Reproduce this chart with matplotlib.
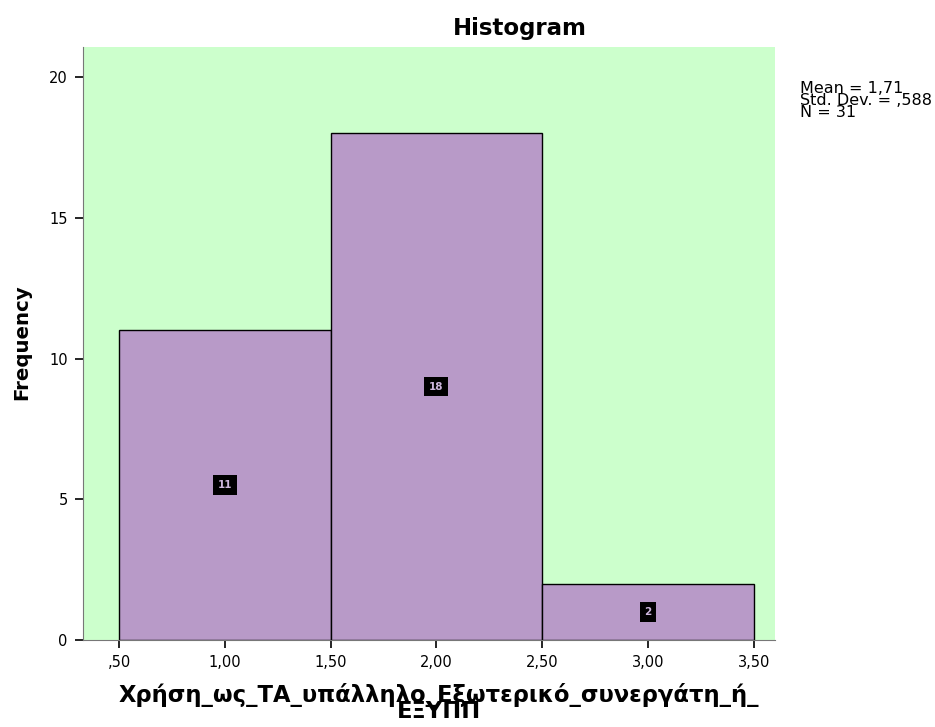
import matplotlib.pyplot as plt
import numpy as np

plt.rcParams['font.family'] = ['DejaVu Sans']

# histogram data (SPSS output)
bin_edges = [0.5, 1.5, 2.5, 3.5]
counts = [11, 18, 2]
xtick_vals = [0.5, 1.0, 1.5, 2.0, 2.5, 3.0, 3.5]
xtick_labels = [",50", "1,00", "1,50", "2,00", "2,50", "3,00", "3,50"]
ytick_vals = [0, 5, 10, 15, 20]
stats_text = "Mean = 1,71\nStd. Dev. = ,588\nN = 31"
xlabel = "Χρήση_ως_ΤΑ_υπάλληλο_Εξωτερικό_συνεργάτη_ή_\nΕΞΥΠΠ"

fig = plt.figure(figsize=(9.35, 7.27), dpi=100)
ax = fig.add_axes([0.0888, 0.1197, 0.740, 0.8157])
ax.set_facecolor("#CCFFCC")

edges = np.array(bin_edges)
lefts = edges[:-1]
widths = np.diff(edges)
centers = lefts + widths / 2
ax.bar(lefts, counts, width=widths, align="edge", color="#B89AC8",
       edgecolor="black", linewidth=1.0, zorder=2)

# count labels in black boxes
for c, n in zip(centers, counts):
    ax.text(c, n / 2, str(n), ha="center", va="center", fontsize=7.5,
            fontweight="bold", color="#CDB6DD", zorder=3,
            bbox=dict(boxstyle="square,pad=0.45", fc="black", ec="none"))

ax.set_xlim(0.33, 3.6)
ax.set_ylim(0, 21.07)
ax.set_xticks(xtick_vals)
ax.set_xticklabels(xtick_labels, fontsize=10.5)
ax.set_yticks(ytick_vals)
ax.set_yticklabels([str(v) for v in ytick_vals], fontsize=10.5)
ax.tick_params(direction="out", length=6, width=1.2, color="black", pad=5)

for s in ["top", "right"]:
    ax.spines[s].set_visible(False)
for s in ["left", "bottom"]:
    ax.spines[s].set_color("#777777")

fig.text(22 / 935, 1 - 342 / 727, "Frequency", rotation=90, ha="center",
         va="center", fontsize=14.2, fontweight="bold")
fig.text(439 / 935, 1 - 703 / 727, xlabel, ha="center", va="center",
         fontsize=16.3, fontweight="bold", linespacing=0.64)

fig.text(520 / 935, 1 - 28 / 727, "Histogram", ha="center", va="center",
         fontsize=16.5, fontweight="bold")
fig.text(800 / 935, 1 - 81 / 727, stats_text, ha="left", va="top",
         fontsize=11.5, linespacing=0.75)

fig.savefig("out.png", dpi=100)
